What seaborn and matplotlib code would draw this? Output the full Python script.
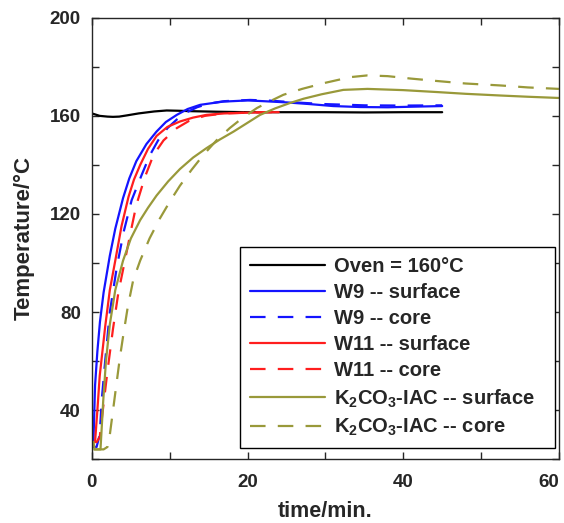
import matplotlib
matplotlib.use("Agg")
import matplotlib.pyplot as plt
import seaborn as sns
import pandas as pd
from matplotlib.ticker import MultipleLocator

# ---- data ----
oven_t = [0, 0.5, 1, 2, 2.7, 3.5, 4.5, 6, 8, 9.6, 11, 13, 16, 20, 25, 30, 35, 40, 45]
oven_T = [161, 160.5, 160, 159.7, 159.6, 159.7, 160.2, 161.0, 161.8, 162.2, 162.1, 161.9, 161.7, 161.5, 161.5, 161.5, 161.4, 161.5, 161.5]

w9s_t = [0, 0.2, 0.4, 0.7, 1.03, 1.5, 2.3, 3.0, 4.0, 4.8, 5.7, 7.0, 8.3, 9.5, 10.9, 12.3, 13.9, 16.8, 20, 22, 25, 28, 31, 34.5, 38, 42, 45]
w9s_T = [25, 28, 50, 64, 76, 88, 103, 114, 126.5, 134.5, 141.5, 148.5, 153.6, 157.5, 160.4, 162.8, 164.5, 165.8, 166.3, 166, 165.5, 164.8, 164, 163.6, 163.5, 163.8, 164]

w9c_t = [0, 0.6, 1.0, 1.25, 1.7, 2.3, 3.2, 4.1, 5.1, 6.4, 7.45, 8.5, 9.7, 10.9, 12.2, 13.5, 15, 17, 20.3, 23, 26, 30, 35, 40, 45]
w9c_T = [25, 25, 30, 43.8, 60, 80, 98.4, 113, 125.6, 136, 144, 150, 155, 158.5, 161.5, 163.5, 165, 166, 166.5, 166.2, 165.5, 164.8, 164.3, 164.2, 164.3]

w11s_t = [0, 0.4, 0.7, 1.0, 1.7, 2.3, 3.0, 3.8, 4.7, 5.4, 6.2, 7.2, 8.3, 9.7, 11.3, 13, 14.7, 17, 20, 22, 24]
w11s_T = [27, 27, 40, 54, 74, 89, 101, 115, 127, 134, 140, 146.5, 151.8, 155.5, 157.7, 159.3, 160.4, 161, 161.3, 161.5, 161.5]

w11c_t = [0, 0.6, 1.0, 1.4, 2.0, 2.7, 3.4, 4.2, 5.0, 5.7, 6.8, 7.9, 9.2, 10.9, 12.5, 14.5, 17, 20, 22, 24]
w11c_T = [27, 27, 29, 40, 56, 73, 88, 100.4, 113, 123.6, 135, 144, 150, 155, 158, 160, 161, 161.3, 161.5, 161.5]

ks_t = [0.2, 0.35, 0.7, 1.1, 1.45, 1.8, 2.3, 3.0, 4.0, 5.0, 6.2, 7.2, 8.3, 9.8, 11.3, 13, 14.7, 16.4, 18.2, 19.9, 21.6, 23.5, 25.4, 27.2, 29.5, 32.3, 35.4, 40, 44.4, 48, 52.5, 56, 60]
ks_T = [27, 24, 24, 24, 43.8, 60, 75, 89, 101, 110, 117.5, 122.5, 127.5, 133.3, 138.3, 143, 146.8, 150.3, 153.6, 157, 160.4, 163, 165.2, 167, 168.8, 170.6, 171, 170.5, 169.7, 169, 168.3, 167.8, 167.3]

kc_t = [0.2, 0.5, 1, 1.5, 2, 2.3, 3.0, 3.6, 4.0, 4.6, 5.3, 6.2, 7.4, 8.7, 10, 11.3, 12.8, 14.3, 16, 17.7, 19.4, 21.2, 22.9, 24.6, 27, 30, 33.2, 35.4, 38, 41, 44.4, 48, 52.5, 56, 60]
kc_T = [24, 24, 24, 24, 25, 30, 47, 61.6, 70, 82, 93, 101, 110, 118, 125, 131.5, 138, 144, 150, 155, 159.3, 163.2, 166, 168.6, 171, 173.5, 175.8, 176.5, 176.2, 175.2, 174.2, 173.2, 172.4, 171.6, 171]

labels = ["Oven = 160\u00b0C", "W9 -- surface", "W9 -- core", "W11 -- surface", "W11 -- core",
          "K$_2$CO$_3$-IAC -- surface", "K$_2$CO$_3$-IAC -- core"]

series = [
    (oven_t, oven_T, "black", False),
    (w9s_t, w9s_T, "#1414ff", False),
    (w9c_t, w9c_T, "#1414ff", True),
    (w11s_t, w11s_T, "#ff1e1e", False),
    (w11c_t, w11c_T, "#ff1e1e", True),
    (ks_t, ks_T, "#99993a", False),
    (kc_t, kc_T, "#99993a", True),
]

sns.set_style("ticks")
plt.rcParams["font.family"] = ["Liberation Sans", "DejaVu Sans"]
plt.rcParams["font.weight"] = "bold"
plt.rcParams["mathtext.default"] = "regular"

fig = plt.figure(figsize=(5.64, 5.23), dpi=100)
ax = fig.add_axes([0.163, 0.122, 0.828, 0.844])

for (t, T, c, dashed), lab in zip(series, labels):
    df = pd.DataFrame({"t": t, "T": T})
    sns.lineplot(data=df, x="t", y="T", ax=ax, color=c, label=lab,
                 linewidth=1.6, sort=False)
    if dashed:
        ax.lines[-1].set_dashes([7, 5.5])

ax.set_xlim(0, 60)
ax.set_ylim(20, 200)
ax.set_xticks([0, 20, 40, 60])
ax.xaxis.set_minor_locator(MultipleLocator(10))
ax.set_yticks([40, 80, 120, 160, 200])
ax.yaxis.set_minor_locator(MultipleLocator(20))
ax.tick_params(which="both", direction="in", top=True, right=True, length=5, width=1.0,
               labelsize=13.5)
ax.tick_params(axis="x", pad=11)
ax.tick_params(axis="y", pad=8)
for s in ax.spines.values():
    s.set_linewidth(1.0)
    s.set_visible(True)
for lbl in ax.get_xticklabels() + ax.get_yticklabels():
    lbl.set_fontweight("bold")
# the last x tick label sits flush with the right spine in the reference
ax.xaxis.get_major_ticks()[-1].label1.set_horizontalalignment("right")

ax.set_xlabel("time/min.", fontsize=15.5, fontweight="bold", labelpad=7)
ax.set_ylabel("Temperature/\u00b0C", fontsize=16, fontweight="bold", labelpad=11)

leg = ax.legend(loc="lower left", bbox_to_anchor=(0.317, 0.025, 0.674, 0.456), mode="expand",
                borderaxespad=0, frameon=True, fancybox=False, edgecolor="black",
                framealpha=1, fontsize=14.5, handlelength=3.7, labelspacing=0.35,
                handletextpad=0.45, borderpad=0.5)
leg.get_frame().set_linewidth(1.0)
for txt in leg.get_texts():
    txt.set_fontweight("bold")

fig.savefig("out.png", dpi=100)
